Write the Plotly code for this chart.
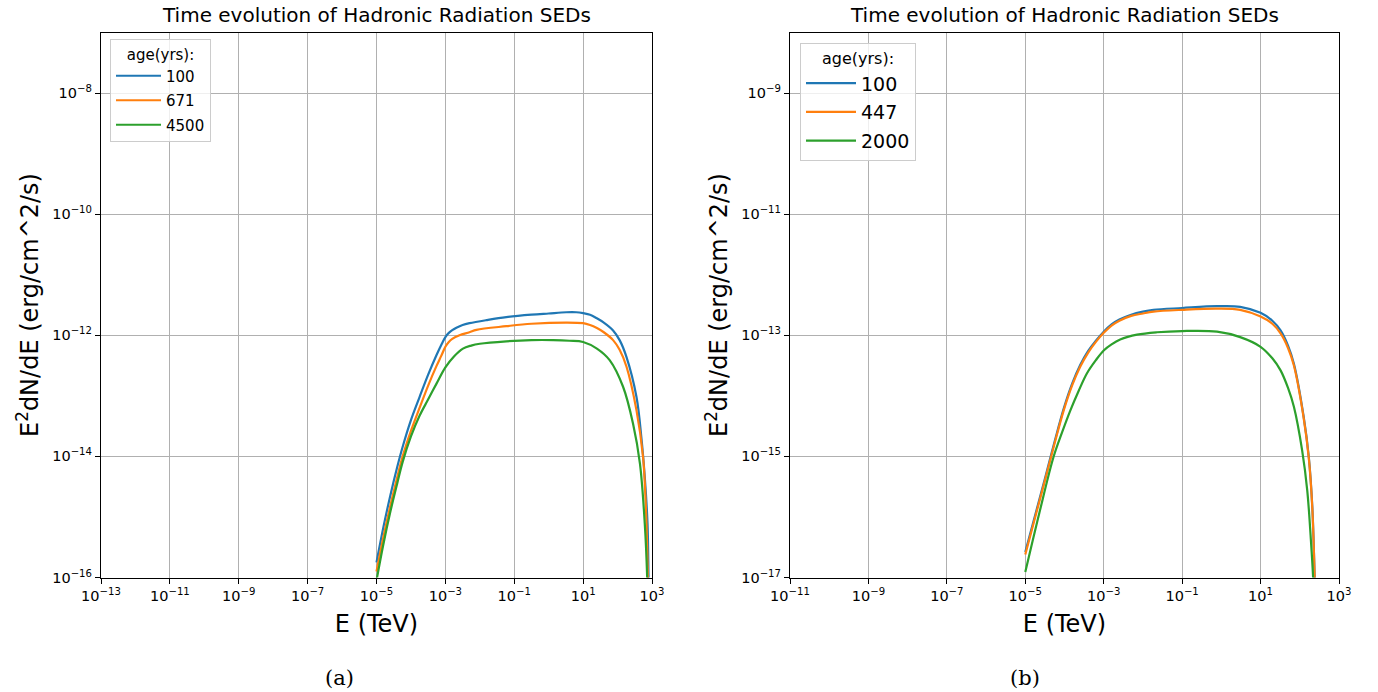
import plotly.graph_objects as go

# ---------------- data ----------------
ages_a = ["100", "671", "4500"]
ages_b = ["100", "447", "2000"]

# panel (a): log10(E / TeV) and log10(E^2 dN/dE / erg cm^-2 s^-1)
logE_a_blue = [-5.0, -4.8, -4.6, -4.4, -4.24, -4.0, -3.75, -3.5, -3.26, -3.12, -3.0, -2.9, -2.8, -2.68, -2.5, -2.3, -1.81, -1.23, -0.5, 0.0, 0.51, 0.8, 1.0, 1.2, 1.4, 1.6, 1.87, 2.06, 2.26, 2.55, 2.69, 2.79, 2.87, 2.90, 2.92]
logF_a_blue = [-15.75, -15.17, -14.65, -14.18, -13.84, -13.40, -13.02, -12.65, -12.33, -12.16, -12.03, -11.96, -11.915, -11.875, -11.83, -11.80, -11.75, -11.70, -11.66, -11.64, -11.62, -11.62, -11.635, -11.66, -11.72, -11.79, -11.92, -12.08, -12.36, -13.02, -13.68, -14.34, -15.11, -16.0, -16.6]

logE_a_orange = [-5.0, -4.8, -4.6, -4.4, -4.24, -4.0, -3.75, -3.5, -3.26, -3.12, -3.0, -2.9, -2.8, -2.59, -2.3, -2.10, -1.23, -0.5, 0.51, 1.0, 1.2, 1.4, 1.6, 1.87, 2.06, 2.26, 2.55, 2.74, 2.80, 2.84, 2.88, 2.90]
logF_a_orange = [-15.90, -15.33, -14.82, -14.35, -14.00, -13.58, -13.20, -12.83, -12.51, -12.34, -12.19, -12.11, -12.06, -12.00, -11.95, -11.91, -11.85, -11.81, -11.79, -11.80, -11.83, -11.88, -11.95, -12.08, -12.24, -12.52, -13.24, -14.01, -14.55, -15.11, -16.0, -16.6]

logE_a_green = [-5.0, -4.8, -4.6, -4.4, -4.24, -4.0, -3.75, -3.51, -3.25, -3.0, -2.75, -2.49, -2.25, -2.0, -1.23, -0.5, 0.13, 0.6, 1.0, 1.4, 1.77, 2.16, 2.45, 2.65, 2.79, 2.86, 2.88]
logF_a_green = [-16.05, -15.45, -14.92, -14.45, -14.09, -13.67, -13.33, -13.07, -12.79, -12.53, -12.35, -12.22, -12.17, -12.14, -12.10, -12.08, -12.08, -12.09, -12.11, -12.22, -12.41, -12.85, -13.46, -14.12, -15.11, -16.0, -16.6]

# panel (b)
logE_b = [-5.0, -4.5, -4.25, -4.02, -3.8, -3.6, -3.4, -3.2, -3.0, -2.8, -2.6, -2.3, -2.0, -1.73, -1.0, -0.11, 0.48, 1.0, 1.3, 1.51, 1.7, 1.85, 2.10, 2.23, 2.32, 2.38, 2.41]
logF_b_blue = [-16.58, -15.37, -14.75, -14.21, -13.79, -13.49, -13.26, -13.09, -12.94, -12.82, -12.74, -12.66, -12.61, -12.58, -12.55, -12.52, -12.53, -12.63, -12.76, -12.92, -13.17, -13.47, -14.35, -15.01, -15.84, -17.0, -17.6]
logF_b_orange = [-16.62, -15.40, -14.78, -14.24, -13.82, -13.52, -13.29, -13.11, -12.96, -12.84, -12.76, -12.68, -12.64, -12.61, -12.58, -12.56, -12.58, -12.69, -12.81, -12.97, -13.21, -13.50, -14.37, -15.03, -15.86, -17.0, -17.6]

logE_b_green = [-5.0, -4.64, -4.28, -4.06, -3.85, -3.64, -3.43, -3.2, -3.0, -2.8, -2.58, -2.15, -1.64, -1.0, -0.11, 0.48, 1.0, 1.3, 1.51, 1.7, 1.85, 2.06, 2.19, 2.29, 2.34, 2.37]
logF_b_green = [-16.91, -15.93, -15.01, -14.60, -14.24, -13.92, -13.63, -13.41, -13.25, -13.15, -13.07, -12.99, -12.95, -12.93, -12.94, -13.03, -13.19, -13.38, -13.58, -13.87, -14.18, -14.90, -15.56, -16.45, -17.0, -17.5]

xticks_a = [-13, -11, -9, -7, -5, -3, -1, 1, 3]
yticks_a = [-16, -14, -12, -10, -8]
xticks_b = [-11, -9, -7, -5, -3, -1, 1, 3]
yticks_b = [-17, -15, -13, -11, -9]

colors = ["#1f77b4", "#ff7f0e", "#2ca02c"]


def pw(lst):
    return [10.0 ** v for v in lst]


def lab(e):
    return "10<sup>" + ("\u2212" + str(-e) if e < 0 else str(e)) + "</sup>"


FONT = "DejaVu Sans"
W, H = 1378, 692

fig = go.Figure()

series_a = [(logE_a_blue, logF_a_blue), (logE_a_orange, logF_a_orange), (logE_a_green, logF_a_green)]
for i, (xs, ys) in enumerate(series_a):
    fig.add_trace(go.Scatter(x=pw(xs), y=pw(ys), mode="lines", name=ages_a[i],
                             line=dict(color=colors[i], width=2.2, shape="spline", smoothing=1.0),
                             xaxis="x", yaxis="y", legend="legend", legendgroup="a" + str(i)))

series_b = [(logE_b, logF_b_blue), (logE_b, logF_b_orange), (logE_b_green, logF_b_green)]
for i, (xs, ys) in enumerate(series_b):
    fig.add_trace(go.Scatter(x=pw(xs), y=pw(ys), mode="lines", name=ages_b[i],
                             line=dict(color=colors[i], width=2.2, shape="spline", smoothing=1.0),
                             xaxis="x2", yaxis="y2", legend="legend2", legendgroup="b" + str(i)))


def px_x(p):
    return p / W


def px_y(p):
    return 1 - p / H


axis_common = dict(type="log", showline=True, linecolor="black", linewidth=1.2, mirror=True,
                   ticks="outside", ticklen=5, tickwidth=1, tickcolor="black",
                   showgrid=True, gridcolor="#b0b0b0", gridwidth=1, zeroline=False,
                   automargin=False,
                   tickfont=dict(family=FONT, size=14.5, color="black"))

xtitle = dict(text="E (TeV)", font=dict(size=24, family=FONT), standoff=12)
ytitle = dict(text="E<sup>2</sup>dN/dE (erg/cm^2/s)", font=dict(size=24, family=FONT), standoff=6)

fig.update_layout(
    width=W, height=H,
    margin=dict(l=0, r=0, t=0, b=0, autoexpand=False),
    paper_bgcolor="white", plot_bgcolor="white",
    font=dict(family=FONT, color="black"),
    xaxis=dict(axis_common, domain=[px_x(101), px_x(652)], range=[-13, 3],
               tickvals=pw(xticks_a), ticktext=[lab(e) for e in xticks_a], anchor="y", title=xtitle),
    yaxis=dict(axis_common, domain=[px_y(577.5), px_y(32.5)], range=[-16, -7],
               tickvals=pw(yticks_a), ticktext=[lab(e) for e in yticks_a], anchor="x", title=ytitle),
    xaxis2=dict(axis_common, domain=[px_x(790), px_x(1339)], range=[-11, 3],
                tickvals=pw(xticks_b), ticktext=[lab(e) for e in xticks_b], anchor="y2", title=xtitle),
    yaxis2=dict(axis_common, domain=[px_y(577.5), px_y(32.5)], range=[-17, -8],
                tickvals=pw(yticks_b), ticktext=[lab(e) for e in yticks_b], anchor="x2", title=ytitle),
    legend=dict(x=px_x(110), y=px_y(39), xanchor="left", yanchor="top",
                bgcolor="rgba(255,255,255,0.8)", bordercolor="#cccccc", borderwidth=1,
                font=dict(family=FONT, size=15), tracegroupgap=2, itemwidth=45,
                title=dict(text="age(yrs):", side="top center", font=dict(family=FONT, size=15))),
    legend2=dict(x=px_x(800), y=px_y(42.5), xanchor="left", yanchor="top",
                 bgcolor="rgba(255,255,255,0.8)", bordercolor="#cccccc", borderwidth=1,
                 font=dict(family=FONT, size=19), tracegroupgap=1, itemwidth=50,
                 title=dict(text="age(yrs):", side="top center", font=dict(family=FONT, size=16))),
    annotations=[
        dict(text="Time evolution of Hadronic Radiation SEDs", x=(px_x(101) + px_x(652)) / 2, y=px_y(15),
             xref="paper", yref="paper", showarrow=False, xanchor="center", yanchor="middle",
             font=dict(family=FONT, size=20)),
        dict(text="Time evolution of Hadronic Radiation SEDs", x=(px_x(790) + px_x(1339)) / 2, y=px_y(15),
             xref="paper", yref="paper", showarrow=False, xanchor="center", yanchor="middle",
             font=dict(family=FONT, size=20)),
        dict(text="(a)", x=px_x(339), y=px_y(678), xref="paper", yref="paper", showarrow=False,
             xanchor="center", yanchor="middle", font=dict(family="DejaVu Serif", size=21)),
        dict(text="(b)", x=px_x(1025), y=px_y(678), xref="paper", yref="paper", showarrow=False,
             xanchor="center", yanchor="middle", font=dict(family="DejaVu Serif", size=21)),
    ],
)

# the browser's default 8px page margin would shift the whole figure
fig.write_html("out.html", config={"displayModeBar": False},
               post_script="document.body.style.margin='0px';")
